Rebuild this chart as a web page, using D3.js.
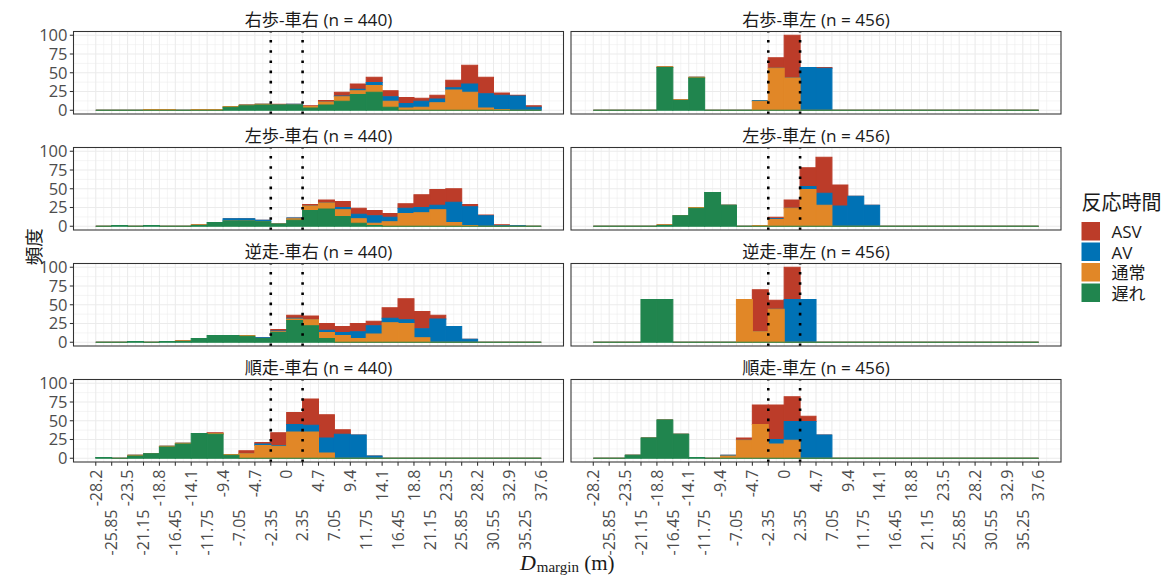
<!DOCTYPE html>
<html><head><meta charset="utf-8">
<script src="https://cdn.jsdelivr.net/npm/d3@7/dist/d3.min.js"></script>
<style>
body{margin:0;background:#fff;}
svg{display:block;font-family:"Open Sans","Noto Sans CJK JP",sans-serif;}
</style>
</head><body>
<svg id="chart" width="1170" height="576"></svg>
<script>
// ---- data ----
const tickValues = [-28.2,-25.85,-23.5,-21.15,-18.8,-16.45,-14.1,-11.75,-9.4,-7.05,-4.7,-2.35,0,2.35,4.7,7.05,9.4,11.75,14.1,16.45,18.8,21.15,23.5,25.85,28.2,30.55,32.9,35.25,37.6];
const tickLabels = ["-28.2","-25.85","-23.5","-21.15","-18.8","-16.45","-14.1","-11.75","-9.4","-7.05","-4.7","-2.35","0","2.35","4.7","7.05","9.4","11.75","14.1","16.45","18.8","21.15","23.5","25.85","28.2","30.55","32.9","35.25","37.6"];
const yTicks = [0,25,50,75,100];
const refLines = [-2.35, 2.35];
const panelNames = ["右歩-車右","右歩-車左","左歩-車右","左歩-車左","逆走-車右","逆走-車左","順走-車右","順走-車左"];
const panelN = [440,456,440,456,440,456,440,456];
const keys = ["ASV","AV","通常","遅れ"];
const colors = ["#BC3C29","#0072B5","#E18727","#20854E"];

// counts per bin (28 bins of 2.35 from -28.2 to 37.6)
const rwR_asv  = [0,0,0,0,0,0,0,0,0,0,0,1,0,1,2,5,7,7,8,8,4,5,10,25,22,3,1,2];
const rwR_av   = [0,0,0,0,0,0,0,0,0,0,0,0,1,0,0,1,2,4,6,6,8,5,3,11,19,19,19,4];
const rwR_norm = [0,0,0,1,1,0,1,1,1,1,1,0,0,2,4,6,5,9,8,3,4,10,27,24,3,1,0,0];
const rwR_late = [0,0,0,0,0,0,0,0,4,6,7,7,7,3,7,12,21,24,4,0,0,0,0,0,0,0,0,0];

const rwL_asv  = [0,0,0,0,0,0,0,0,0,0,0,14,57,0,1,0,0,0,0,0,0,0,0,0,0,0,0,0];
const rwL_av   = [0,0,0,0,0,0,0,0,0,0,1,0,0,57,56,0,0,0,0,0,0,0,0,0,0,0,0,0];
const rwL_norm = [0,0,0,0,1,1,1,0,0,0,12,56,43,0,0,0,0,0,0,0,0,0,0,0,0,0,0,0];
const rwL_late = [0,0,0,0,57,13,43,0,0,0,0,0,0,0,0,0,0,0,0,0,0,0,0,0,0,0,0,0];

const lwR_asv  = [0,0,0,0,0,0,0,0,0,0,0,0,0,2,4,8,8,7,5,6,17,21,18,3,1,1,0,0];
const lwR_av   = [0,0,0,0,0,0,0,0,3,3,2,0,1,0,0,3,6,10,6,7,7,6,27,25,14,1,1,0];
const lwR_norm = [0,0,0,0,0,0,1,0,0,0,0,0,2,6,8,9,6,3,6,17,18,22,5,1,0,0,0,0];
const lwR_late = [0,1,0,1,0,0,1,5,7,7,6,3,8,21,23,13,4,1,0,0,0,0,0,0,0,0,0,0];

const lwL_asv  = [0,0,0,0,0,0,0,0,0,0,0,2,11,25,48,28,0,0,0,0,0,0,0,0,0,0,0,0];
const lwL_av   = [0,0,0,0,0,0,0,0,0,0,0,1,0,4,16,27,40,28,0,0,0,0,0,0,0,0,0,0];
const lwL_norm = [0,0,0,0,1,0,1,0,0,0,1,9,24,49,28,0,0,0,0,0,0,0,0,0,0,0,0,0];
const lwL_late = [0,0,0,0,1,14,24,45,28,0,0,0,0,0,0,0,0,0,0,0,0,0,0,0,0,0,0,0];

const rvR_asv  = [0,0,0,0,0,0,0,0,0,0,0,2,4,5,9,8,11,6,14,28,23,5,0,0,0,0,0,0];
const rvR_av   = [0,0,0,0,0,0,0,0,0,0,1,1,1,0,3,4,9,11,6,5,12,31,21,4,0,0,0,0];
const rvR_norm = [0,0,0,0,0,1,0,0,0,1,0,1,2,8,8,9,5,11,26,25,6,0,0,0,0,0,0,0];
const rvR_late = [0,0,1,0,1,1,5,9,9,8,5,13,29,22,5,0,0,0,0,0,0,0,0,0,0,0,0,0];

const rvL_asv  = [0,0,0,0,0,0,0,0,0,0,56,12,43,0,0,0,0,0,0,0,0,0,0,0,0,0,0,0];
const rvL_av   = [0,0,0,0,0,0,0,0,0,0,0,0,57,57,0,0,0,0,0,0,0,0,0,0,0,0,0,0];
const rvL_norm = [0,0,0,0,0,0,0,0,0,57,14,44,0,0,0,0,0,0,0,0,0,0,0,0,0,0,0,0];
const rvL_late = [0,0,0,57,57,0,0,0,0,0,0,0,0,0,0,0,0,0,0,0,0,0,0,0,0,0,0,0];

const fwR_asv  = [0,0,0,0,0,0,0,1,0,4,2,17,16,35,31,6,0,0,0,0,0,0,0,0,0,0,0,0];
const fwR_av   = [0,0,0,0,0,0,0,0,0,0,2,1,10,9,20,32,31,3,0,0,0,0,0,0,0,0,0,0];
const fwR_norm = [0,0,1,0,1,1,0,1,1,6,17,16,35,35,7,0,0,0,0,0,0,0,0,0,0,0,0,0];
const fwR_late = [1,0,3,6,15,19,33,32,4,0,0,0,0,0,0,0,0,0,0,0,0,0,0,0,0,0,0,0];

const fwL_asv  = [0,0,0,0,0,0,0,0,0,3,26,46,33,7,0,0,0,0,0,0,0,0,0,0,0,0,0,0];
const fwL_av   = [0,0,0,0,0,0,0,0,1,0,0,6,25,49,31,0,0,0,0,0,0,0,0,0,0,0,0,0];
const fwL_norm = [0,0,0,0,0,0,0,0,3,24,45,19,24,0,0,0,0,0,0,0,0,0,0,0,0,0,0,0];
const fwL_late = [0,0,4,27,51,32,1,0,0,0,0,0,0,0,0,0,0,0,0,0,0,0,0,0,0,0,0,0];

const panelSeries = [
  [rwR_asv, rwR_av, rwR_norm, rwR_late],
  [rwL_asv, rwL_av, rwL_norm, rwL_late],
  [lwR_asv, lwR_av, lwR_norm, lwR_late],
  [lwL_asv, lwL_av, lwL_norm, lwL_late],
  [rvR_asv, rvR_av, rvR_norm, rvR_late],
  [rvL_asv, rvL_av, rvL_norm, rvL_late],
  [fwR_asv, fwR_av, fwR_norm, fwR_late],
  [fwL_asv, fwL_av, fwL_norm, fwL_late]
];

// ---- layout ----
const svg = d3.select("#chart");
const colX = [73.5, 571];
const rowY = [31.5, 147.5, 263.5, 379.5];
const PW = 490, PH = 82.5;
const xmin = tickValues[0], xmax = tickValues[tickValues.length-1];
const xr = xmax - xmin;
const x = d3.scaleLinear().domain([xmin - 0.05*xr, xmax + 0.05*xr]).range([0, PW]);
const y = d3.scaleLinear().domain([-5, 105]).range([PH, 0]);

const majorX = tickValues;
const minorX = [];
for (let i = -1; i < tickValues.length; i++) {
  const a = i < 0 ? tickValues[0] - 2.35 : tickValues[i];
  const b = i < tickValues.length - 1 ? tickValues[i+1] : tickValues[i] + 2.35;
  minorX.push((a + b) / 2);
}
const minorY = [12.5, 37.5, 62.5, 87.5];

const stack = d3.stack().keys(["遅れ","通常","AV","ASV"]);

panelNames.forEach((name, p) => {
  const col = p % 2, row = Math.floor(p / 2);
  const g = svg.append("g").attr("transform", `translate(${colX[col]},${rowY[row]})`);
  g.append("rect").attr("width", PW).attr("height", PH).attr("fill", "#fff");
  const clipId = "clip" + p;
  g.append("clipPath").attr("id", clipId).append("rect").attr("width", PW).attr("height", PH);
  const inner = g.append("g").attr("clip-path", `url(#${clipId})`);
  // grid
  inner.selectAll(".mnx").data(minorX.filter(v => x(v) > 0 && x(v) < PW)).join("line")
    .attr("x1", d => x(d)).attr("x2", d => x(d)).attr("y1", 0).attr("y2", PH)
    .attr("stroke", "#ebebeb").attr("stroke-width", 0.55);
  inner.selectAll(".mny").data(minorY).join("line")
    .attr("x1", 0).attr("x2", PW).attr("y1", d => y(d)).attr("y2", d => y(d))
    .attr("stroke", "#ebebeb").attr("stroke-width", 0.55);
  inner.selectAll(".mjx").data(majorX).join("line")
    .attr("x1", d => x(d)).attr("x2", d => x(d)).attr("y1", 0).attr("y2", PH)
    .attr("stroke", "#ebebeb").attr("stroke-width", 1.07);
  inner.selectAll(".mjy").data(yTicks).join("line")
    .attr("x1", 0).attr("x2", PW).attr("y1", d => y(d)).attr("y2", d => y(d))
    .attr("stroke", "#ebebeb").attr("stroke-width", 1.07);

  // bars (drawn as closed paths so zero-count bins still show as a thin line)
  const s = panelSeries[p];
  const rows = tickValues.slice(0, 28).map((x0, k) => ({
    x0: x0, x1: tickValues[k+1],
    "ASV": s[0][k], "AV": s[1][k], "通常": s[2][k], "遅れ": s[3][k]
  }));
  const stacked = stack(rows);
  const drawOrder = ["ASV","AV","通常","遅れ"];
  drawOrder.forEach(key => {
    const ser = stacked.find(d => d.key === key);
    const c = colors[keys.indexOf(key)];
    inner.append("g").selectAll("path").data(ser).join("path")
      .attr("d", d => {
        const x0 = x(d.data.x0), x1 = x(d.data.x1), y0 = y(d[0]), y1 = y(d[1]);
        return `M${x0},${y0}H${x1}V${y1}H${x0}Z`;
      })
      .attr("fill", c).attr("stroke", c).attr("stroke-width", 1.07)
      .attr("stroke-linejoin", "miter");
  });

  // reference lines
  inner.selectAll(".vl").data(refLines).join("line")
    .attr("x1", d => x(d)).attr("x2", d => x(d)).attr("y1", PH).attr("y2", 0)
    .attr("stroke", "#000").attr("stroke-width", 2.6).attr("stroke-dasharray", "2.6 7.6");

  // border
  g.append("rect").attr("width", PW).attr("height", PH)
    .attr("fill", "none").attr("stroke", "#333333").attr("stroke-width", 1.07);

  // strip
  g.append("text").attr("x", PW/2).attr("y", -12.5)
    .attr("text-anchor", "middle").attr("dominant-baseline", "central")
    .attr("font-size", 17.2).attr("fill", "#1a1a1a")
    .text(`${name} (n = ${panelN[p]})`);

  // y axis on left col
  if (col === 0) {
    g.selectAll(".yt").data(yTicks).join("line")
      .attr("x1", -3.7).attr("x2", 0).attr("y1", d => y(d)).attr("y2", d => y(d))
      .attr("stroke", "#333333").attr("stroke-width", 1.07);
    g.selectAll(".yl").data(yTicks).join("text")
      .attr("x", -6).attr("y", d => y(d)).attr("dy", "0.36em")
      .attr("text-anchor", "end").attr("font-size", 16.5).attr("fill", "#4d4d4d")
      .text(d => d);
  }
  // x axis on bottom row
  if (row === 3) {
    g.selectAll(".xt").data(tickValues).join("line")
      .attr("x1", d => x(d)).attr("x2", d => x(d)).attr("y1", PH).attr("y2", PH + 3.7)
      .attr("stroke", "#333333").attr("stroke-width", 1.07);
    g.selectAll(".xl").data(tickValues).join("text")
      .attr("transform", (d, i) => `translate(${x(d)},${PH + (i % 2 === 0 ? 7.5 : 47.5)}) rotate(-90)`)
      .attr("dy", "0.36em").attr("text-anchor", "end")
      .attr("font-size", 16).attr("fill", "#4d4d4d")
      .text((d, i) => tickLabels[i]);
  }
});

// y axis title
svg.append("text").attr("transform", `translate(33,${(rowY[0] + rowY[3] + PH)/2}) rotate(-90)`)
  .attr("text-anchor", "middle").attr("dominant-baseline", "central")
  .attr("font-size", 18.5).attr("fill", "#1a1a1a").text("頻度");

// x axis title
const xt = svg.append("text").attr("x", (colX[0] + colX[1] + PW)/2).attr("y", 570)
  .attr("text-anchor", "middle").attr("font-family", "'Liberation Serif','DejaVu Serif',serif")
  .attr("fill", "#1a1a1a");
xt.append("tspan").attr("font-style", "italic").attr("font-size", 22).text("D");
xt.append("tspan").attr("font-size", 15).attr("dy", 2).attr("dx", 1).text("margin");
xt.append("tspan").attr("font-size", 21).attr("dy", -2).text(" (m)");

// legend
const lg = svg.append("g").attr("transform", "translate(1081.5,0)");
lg.append("text").attr("x", 0).attr("y", 202).attr("dominant-baseline", "central")
  .attr("font-size", 20).attr("fill", "#1a1a1a").text("反応時間");
keys.forEach((k, i) => {
  lg.append("rect").attr("x", 0.5).attr("y", 222.5 + i*20.5).attr("width", 17.5).attr("height", 17.5)
    .attr("fill", colors[i]).attr("stroke", colors[i]).attr("stroke-width", 1);
  lg.append("text").attr("x", 30).attr("y", 231.5 + i*20.5).attr("dominant-baseline", "central")
    .attr("font-size", 17).attr("fill", "#1a1a1a").text(k);
});
</script>
</body></html>
